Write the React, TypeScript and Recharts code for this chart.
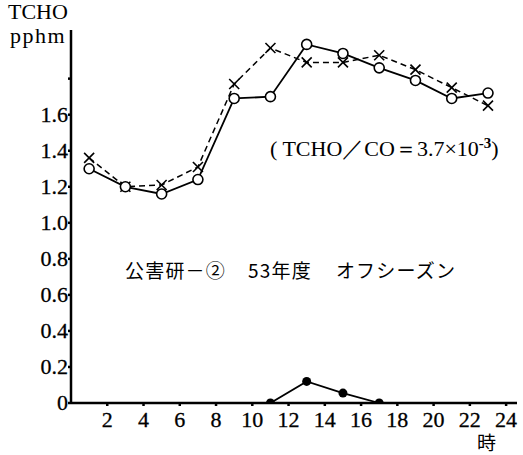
import React from 'react';
import { LineChart, Line, XAxis, YAxis } from 'recharts';

// hourly TCHO readings (pphm), odd hours
const hours = [1, 3, 5, 7, 9, 11, 13, 15, 17, 19, 21, 23];
const tchoCircle = [1.3, 1.2, 1.16, 1.24, 1.69, 1.7, 1.99, 1.94, 1.86, 1.79, 1.69, 1.72];
const tchoCross = [1.36, 1.2, 1.21, 1.31, 1.77, 1.97, 1.89, 1.89, 1.93, 1.85, 1.75, 1.65];
const tchoFilled = [null, null, null, null, null, 0, 0.12, 0.055, 0, null, null, null];

const xTicks = [2, 4, 6, 8, 10, 12, 14, 16, 18, 20, 22, 24];
const yTicks = [0, 0.2, 0.4, 0.6, 0.8, 1.0, 1.2, 1.4, 1.6, 1.8];

const data = hours.map((h, i) => ({
  hour: h,
  circle: tchoCircle[i],
  cross: tchoCross[i],
  filled: tchoFilled[i],
}));

const SERIF = "Liberation Serif";
const CJK = "Noto Sans CJK JP";

const OpenDot = (props: any) => {
  const { cx, cy, key } = props;
  if (cx == null || cy == null) return null;
  return <circle key={key} cx={cx} cy={cy} r={5} fill="#fff" stroke="#000" strokeWidth={1.6} />;
};

const CrossDot = (props: any) => {
  const { cx, cy, key } = props;
  if (cx == null || cy == null) return null;
  const s = 5;
  return (
    <g key={key} stroke="#000" strokeWidth={1.6}>
      <line x1={cx - s} y1={cy - s} x2={cx + s} y2={cy + s} />
      <line x1={cx - s} y1={cy + s} x2={cx + s} y2={cy - s} />
    </g>
  );
};

const FilledDot = (props: any) => {
  const { cx, cy, key, value } = props;
  if (cx == null || cy == null || value == null) return null;
  return <circle key={key} cx={cx} cy={cy} r={4.5} fill="#000" />;
};

// 1.8 gets a tick mark but no label
const yLabel = (v: number) => (v > 1.7 ? '' : v === 0 ? '0' : v.toFixed(1));

const XTick = (props: any) => {
  const { x, y, payload } = props;
  return (
    <text x={x} y={y + 19} textAnchor="middle" fill="#000" stroke="#000" strokeWidth={0.3} fontFamily={SERIF} fontSize={22}>
      {payload.value}
    </text>
  );
};

const YTick = (props: any) => {
  const { x, y, payload } = props;
  return (
    <text x={x + 1} y={y + 7} textAnchor="end" fill="#000" stroke="#000" strokeWidth={0.3} fontFamily={SERIF} fontSize={22}>
      {yLabel(payload.value)}
    </text>
  );
};

export default function App() {
  return (
    <div
      style={{
        position: 'absolute',
        left: 0,
        top: 0,
        width: 523,
        height: 455,
        background: '#fff',
        fontFamily: SERIF,
        fontSize: 22,
      }}
    >
      <LineChart
        width={523}
        height={455}
        data={data}
        margin={{ top: 30, right: 6, bottom: 18, left: 0 }}
      >
        <XAxis
          dataKey="hour"
          type="number"
          domain={[0, 24.6]}
          ticks={xTicks}
          allowDataOverflow
          stroke="#000"
          strokeWidth={2.5}
          tickSize={3}
          tickMargin={2}
          height={34}
          tick={<XTick />}
        />
        <YAxis
          type="number"
          domain={[0, 2.07]}
          ticks={yTicks}
          allowDataOverflow
          stroke="#000"
          strokeWidth={2.5}
          tickSize={3}
          tickMargin={1}
          width={71}
          tick={<YTick />}
        />
        <Line
          dataKey="cross"
          stroke="#000"
          strokeWidth={1.5}
          strokeDasharray="6 4"
          dot={CrossDot}
          isAnimationActive={false}
        />
        <Line
          dataKey="circle"
          stroke="#000"
          strokeWidth={1.8}
          dot={OpenDot}
          isAnimationActive={false}
        />
        <Line
          dataKey="filled"
          stroke="#000"
          strokeWidth={1.8}
          dot={FilledDot}
          isAnimationActive={false}
        />
      </LineChart>

      <div style={{ position: 'absolute', left: 8, top: 0, fontSize: 22, lineHeight: '24px' }}>TCHO</div>
      <div style={{ position: 'absolute', left: 10, top: 24, fontSize: 22, lineHeight: '24px', letterSpacing: 1.5 }}>
        pphm
      </div>
      <div style={{ position: 'absolute', left: 270, top: 134, fontSize: 22, whiteSpace: 'nowrap' }}>
        ( TCHO／CO＝3.7×10<sup style={{ fontSize: 15, fontWeight: 'bold' }}>-3</sup>)
      </div>
      <div
        style={{
          position: 'absolute',
          left: 125,
          top: 256,
          fontFamily: CJK,
          fontSize: 19,
          letterSpacing: 1.2,
          whiteSpace: 'nowrap',
        }}
      >
        公害研－②<span style={{ marginLeft: 22 }}>53年度</span>
        <span style={{ marginLeft: 24 }}>オフシーズン</span>
      </div>
      <div style={{ position: 'absolute', left: 477, top: 428, fontFamily: CJK, fontSize: 19 }}>時</div>
    </div>
  );
}
